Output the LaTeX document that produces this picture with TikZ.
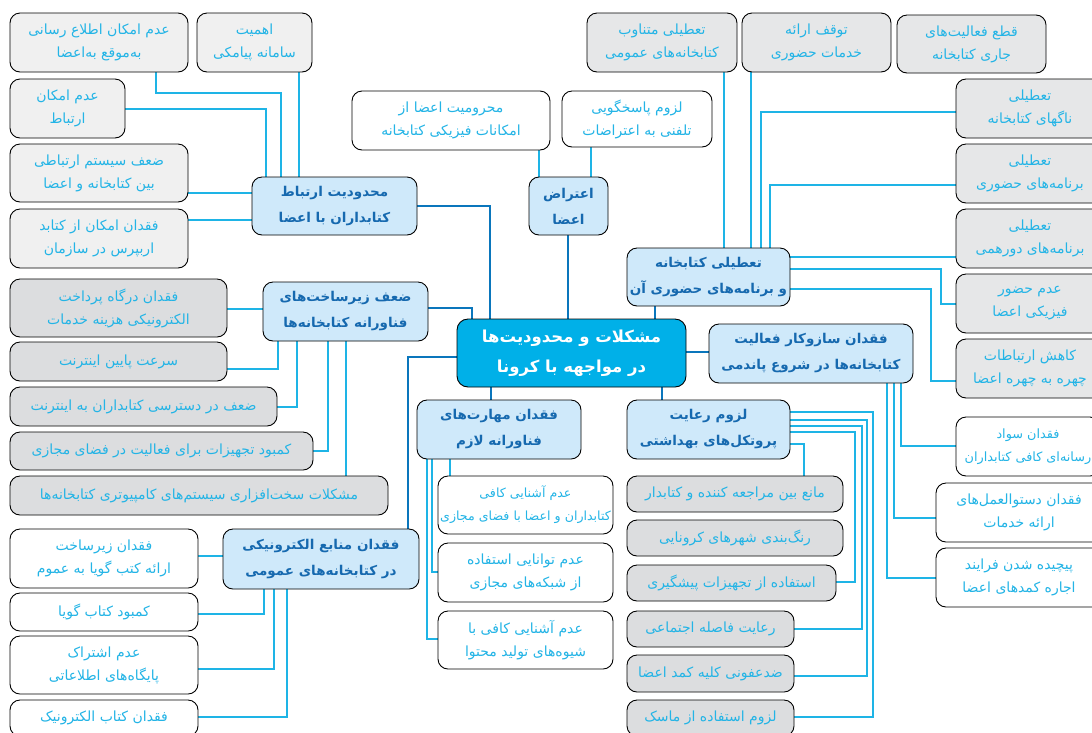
\documentclass[tikz,border=0pt]{standalone}
\usepackage{fontspec}
\newfontfamily\fa[Script=Arabic]{DejaVu Sans}
\TeXXeTstate=1
\usetikzlibrary{backgrounds}
\newcommand\RL[1]{\beginR #1\endR}
\definecolor{lc}{RGB}{30,180,230}
\definecolor{dc}{RGB}{10,118,188}
\definecolor{hubfill}{RGB}{207,233,250}
\definecolor{hubtext}{RGB}{22,105,175}
\definecolor{mainfill}{RGB}{0,176,232}
\definecolor{leaftext}{RGB}{35,180,230}
\definecolor{greyA}{RGB}{240,240,240}
\definecolor{greyB}{RGB}{220,221,223}
\definecolor{greyC}{RGB}{230,231,232}
\newcommand\bx[7]{\node[#2, minimum width={#5-#3}, minimum height={#6-#4}] (#1) at ({(#3+#5)/2},{(#4+#6)/2}) {#7};}
\begin{document}
\begin{tikzpicture}[x=1pt,y=-1pt,
  basebox/.style={draw=black, line width=0.9pt, rounded corners=10pt, align=center, inner sep=0pt},
  leaf/.style={basebox, text=leaftext, font=\fa\fontsize{14}{23}\selectfont},
  hub/.style={basebox, fill=hubfill, text=hubtext, font=\fa\bfseries\fontsize{13.5}{26}\selectfont},
  mainbox/.style={basebox, fill=mainfill, text=white, rounded corners=11pt, font=\fa\bfseries\fontsize{16.5}{30}\selectfont},
  lconn/.style={draw=lc, line width=1.2pt},
  dconn/.style={draw=dc, line width=2.4pt}]
\useasboundingbox (0,0) rectangle (1092,732);
\clip (0,0) rectangle (1092,732);
% center
\bx{M}{mainbox}{457}{319}{686}{387}{\RL{مشکلات و محدودیت^^^^200cها}\\\RL{در مواجهه با کرونا}}
% hubs
\bx{H1}{hub}{252}{177}{417}{235}{\RL{محدودیت ارتباط}\\\RL{کتابداران با اعضا}}
\bx{H2}{hub}{263}{282}{428}{341}{\RL{ضعف زیرساخت^^^^200cهای}\\\RL{فناورانه کتابخانه^^^^200cها}}
\bx{H3}{hub}{223}{529}{419}{589}{\RL{فقدان منابع الکترونیکی}\\\RL{در کتابخانه^^^^200cهای عمومی}}
\bx{H4}{hub}{529}{177}{608}{235}{\RL{اعتراض}\\\RL{اعضا}}
\bx{H5}{hub}{627}{248}{790}{306}{\RL{تعطیلی کتابخانه}\\\RL{و برنامه^^^^200cهای حضوری آن}}
\bx{H6}{hub}{709}{324}{913}{383}{\RL{فقدان سازوکار فعالیت}\\\RL{کتابخانه^^^^200cها در شروع پاندمی}}
\bx{H7}{hub}{417}{400}{581}{459}{\RL{فقدان مهارت^^^^200cهای}\\\RL{فناورانه لازم}}
\bx{H8}{hub}{627}{400}{790}{459}{\RL{لزوم رعایت}\\\RL{پروتکل^^^^200cهای بهداشتی}}
% group A
\bx{A1}{leaf,fill=greyA}{10}{13}{188}{72}{\RL{عدم امکان اطلاع رسانی}\\\RL{به^^^^200cموقع به^^^^200cاعضا}}
\bx{A2}{leaf,fill=greyA}{197}{13}{312}{72}{\RL{اهمیت}\\\RL{سامانه پیامکی}}
\bx{A3}{leaf,fill=greyA}{10}{79}{125}{138}{\RL{عدم امکان}\\\RL{ارتباط}}
\bx{A4}{leaf,fill=greyA}{10}{144}{188}{202}{\RL{ضعف سیستم ارتباطی}\\\RL{بین کتابخانه و اعضا}}
\bx{A5}{leaf,fill=greyA}{10}{209}{188}{268}{\RL{فقدان امکان از کتابد}\\\RL{اربپرس در سازمان}}
% group B
\bx{B1}{leaf,fill=greyB}{10}{279}{227}{337}{\RL{فقدان درگاه پرداخت}\\\RL{الکترونیکی هزینه خدمات}}
\bx{B2}{leaf,fill=greyB}{10}{342}{227}{381}{\RL{سرعت پایین اینترنت}}
\bx{B3}{leaf,fill=greyB}{10}{387}{277}{426}{\RL{ضعف در دسترسی کتابداران به اینترنت}}
\bx{B4}{leaf,fill=greyB}{10}{432}{313}{470}{\RL{کمبود تجهیزات برای فعالیت در فضای مجازی}}
\bx{B5}{leaf,fill=greyB}{10}{476}{388}{515}{\RL{مشکلات سخت^^^^200cافزاری سیستم^^^^200cهای کامپیوتری کتابخانه^^^^200cها}}
% group C
\bx{C1}{leaf,fill=white}{10}{529}{198}{588}{\RL{فقدان زیرساخت}\\\RL{ارائه کتب گویا به عموم}}
\bx{C2}{leaf,fill=white}{10}{593}{198}{631}{\RL{کمبود کتاب گویا}}
\bx{C3}{leaf,fill=white}{10}{636}{198}{694}{\RL{عدم اشتراک}\\\RL{پایگاه^^^^200cهای اطلاعاتی}}
\bx{C4}{leaf,fill=white}{10}{700}{198}{736}{\RL{فقدان کتاب الکترونیک}}
% group D
\bx{D1}{leaf,fill=white}{352}{91}{550}{150}{\RL{محرومیت اعضا از}\\\RL{امکانات فیزیکی کتابخانه}}
\bx{D2}{leaf,fill=white}{562}{91}{712}{147}{\RL{لزوم پاسخگویی}\\\RL{تلفنی به اعتراضات}}
% group E
\bx{E1}{leaf,fill=greyC}{587}{13}{737}{72}{\RL{تعطیلی متناوب}\\\RL{کتابخانه^^^^200cهای عمومی}}
\bx{E2}{leaf,fill=greyC}{742}{13}{891}{72}{\RL{توقف ارائه}\\\RL{خدمات حضوری}}
\bx{E3}{leaf,fill=greyC}{897}{15}{1046}{73}{\RL{قطع فعالیت^^^^200cهای}\\\RL{جاری کتابخانه}}
\bx{E4}{leaf,fill=greyC}{956}{79}{1104}{138}{\RL{تعطیلی}\\\RL{ناگهای کتابخانه}}
\bx{E5}{leaf,fill=greyC}{956}{144}{1104}{203}{\RL{تعطیلی}\\\RL{برنامه^^^^200cهای حضوری}}
\bx{E6}{leaf,fill=greyC}{956}{209}{1104}{268}{\RL{تعطیلی}\\\RL{برنامه^^^^200cهای دورهمی}}
\bx{E7}{leaf,fill=greyC}{956}{274}{1104}{333}{\RL{عدم حضور}\\\RL{فیزیکی اعضا}}
\bx{E8}{leaf,fill=greyC}{956}{339}{1104}{398}{\RL{کاهش ارتباطات}\\\RL{چهره به چهره اعضا}}
% group F
\bx{F1}{leaf,fill=white,font=\fa\fontsize{12.8}{23}\selectfont}{956}{417}{1100}{476}{\RL{فقدان سواد}\\\RL{رسانه^^^^200cای کافی کتابداران}}
\bx{F2}{leaf,fill=white}{936}{483}{1102}{542}{\RL{فقدان دستوالعمل^^^^200cهای}\\\RL{ارائه خدمات}}
\bx{F3}{leaf,fill=white}{936}{548}{1102}{607}{\RL{پیچیده شدن فرایند}\\\RL{اجاره کمدهای اعضا}}
% group G
\bx{G1}{leaf,fill=white,font=\fa\fontsize{12.6}{23}\selectfont}{438}{476}{613}{534}{\RL{عدم آشنایی کافی}\\\RL{کتابداران و اعضا با فضای مجازی}}
\bx{G2}{leaf,fill=white}{438}{543}{613}{602}{\RL{عدم توانایی استفاده}\\\RL{از شبکه^^^^200cهای مجازی}}
\bx{G3}{leaf,fill=white}{438}{611}{613}{669}{\RL{عدم آشنایی کافی با}\\\RL{شیوه^^^^200cهای تولید محتوا}}
% group H
\bx{K1}{leaf,fill=greyB}{627}{476}{843}{512}{\RL{مانع بین مراجعه کننده و کتابدار}}
\bx{K2}{leaf,fill=greyB}{627}{520}{843}{556}{\RL{رنگ^^^^200cبندی شهرهای کرونایی}}
\bx{K3}{leaf,fill=greyB}{627}{565}{836}{601}{\RL{استفاده از تجهیزات پیشگیری}}
\bx{K4}{leaf,fill=greyB}{627}{611}{794}{647}{\RL{رعایت فاصله اجتماعی}}
\bx{K5}{leaf,fill=greyB}{627}{655}{794}{692}{\RL{ضدعفونی کلیه کمد اعضا}}
\bx{K6}{leaf,fill=greyB}{627}{700}{794}{736}{\RL{لزوم استفاده از ماسک}}
\begin{pgfonlayer}{background}
\fill[white] (0,0) rectangle (1092,732);
% dark connectors
\draw[dconn] (H1.east) -| (M.north -| 490,0);
\draw[dconn] (H2.east |- 0,308) -| (M.north -| 472,0);
\draw[dconn] (M.west |- 0,357) -| (H3.north -| 408,0);
\draw[dconn] (H4.south -| 568,0) -- (M.north -| 568,0);
\draw[dconn] (H5.south -| 655,0) -- (M.north -| 655,0);
\draw[dconn] (M.east |- 0,352) -- (H6.west |- 0,352);
\draw[dconn] (M.south -| 491,0) -- (H7.north -| 491,0);
\draw[dconn] (M.south -| 662,0) -- (H8.north -| 662,0);
% group A
\draw[lconn] (A1.south -| 156,0) |- (281,93) -- (H1.north -| 281,0);
\draw[lconn] (A2.south -| 299,0) -- (H1.north -| 299,0);
\draw[lconn] (A3.east |- 0,109) -| (H1.north -| 266,0);
\draw[lconn] (A4.east |- 0,193) -- (H1.west |- 0,193);
\draw[lconn] (A5.east |- 0,220) -- (H1.west |- 0,220);
% group B
\draw[lconn] (B1.east |- 0,309) -- (H2.west |- 0,309);
\draw[lconn] (B2.east |- 0,369) -| (H2.south -| 278,0);
\draw[lconn] (B3.east |- 0,407) -| (H2.south -| 297,0);
\draw[lconn] (B4.east |- 0,451) -| (H2.south -| 328,0);
\draw[lconn] (B5.north -| 346,0) -- (H2.south -| 346,0);
% group C
\draw[lconn] (C1.east |- 0,556) -- (H3.west |- 0,556);
\draw[lconn] (C2.east |- 0,614) -| (H3.south -| 264,0);
\draw[lconn] (C3.east |- 0,669) -| (H3.south -| 274,0);
\draw[lconn] (C4.east |- 0,717) -| (H3.south -| 287,0);
% group D
\draw[lconn] (D1.south -| 539,0) -- (H4.north -| 539,0);
\draw[lconn] (D2.south -| 591,0) -- (H4.north -| 591,0);
% group E
\draw[lconn] (E1.south -| 724,0) -- (H5.north -| 724,0);
\draw[lconn] (E2.south -| 751,0) -- (H5.north -| 751,0);
\draw[lconn] (E4.west |- 0,112) -| (H5.north -| 761,0);
\draw[lconn] (E5.west |- 0,185) -| (H5.north -| 770,0);
\draw[lconn] (E6.west |- 0,257) -- (H5.east |- 0,257);
\draw[lconn] (H5.east |- 0,269) -| (941,304) -- (E7.west |- 0,304);
\draw[lconn] (H5.east |- 0,289) -| (931,381) -- (E8.west |- 0,381);
% group F
\draw[lconn] (H6.south -| 901,0) |- (F1.west |- 0,446);
\draw[lconn] (H6.south -| 894,0) |- (F2.west |- 0,518);
\draw[lconn] (H6.south -| 887,0) |- (F3.west |- 0,578);
% group G
\draw[lconn] (H7.south -| 450,0) -- (G1.north -| 450,0);
\draw[lconn] (H7.south -| 432,0) |- (G2.west |- 0,572);
\draw[lconn] (H7.south -| 427,0) |- (G3.west |- 0,639);
% group K
\draw[lconn] (H8.east |- 0,444) -| (K1.north -| 804,0);
\draw[lconn] (H8.east |- 0,432) -| (855,582) -- (K3.east |- 0,582);
\draw[lconn] (H8.east |- 0,426) -| (862,629) -- (K4.east |- 0,629);
\draw[lconn] (H8.east |- 0,420) -| (867,676) -- (K5.east |- 0,676);
\draw[lconn] (H8.east |- 0,412) -| (873,717) -- (K6.east |- 0,717);
\end{pgfonlayer}
\end{tikzpicture}
\end{document}
